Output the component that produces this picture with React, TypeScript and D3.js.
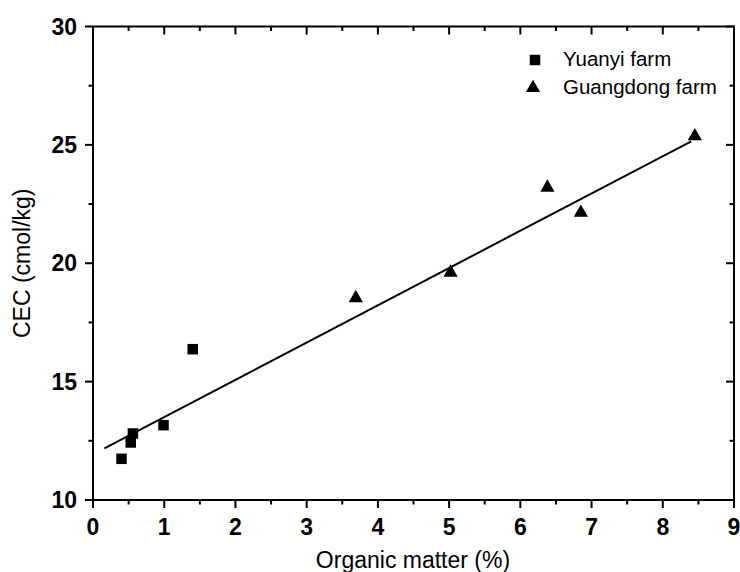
import * as d3 from 'd3'

// Yuanyi farm (squares)
const yuanyiOM = [0.4, 0.53, 0.56, 0.99, 1.4]
const yuanyiCEC = [11.74, 12.43, 12.81, 13.16, 16.37]

// Guangdong farm (triangles)
const guangdongOM = [3.69, 5.02, 6.38, 6.85, 8.45]
const guangdongCEC = [18.57, 19.65, 23.24, 22.18, 25.41]

// linear fit end points
const fitOM = [0.16, 8.4]
const fitCEC = [12.18, 25.15]

const xTicks = [0, 1, 2, 3, 4, 5, 6, 7, 8, 9]
const yTicks = [10, 15, 20, 25, 30]

const W = 740
const H = 572
const FONT = 'Liberation Sans, Arial, sans-serif'

export default function App() {
  const x = d3.scaleLinear().domain([0, 9]).range([93, 734])
  const y = d3.scaleLinear().domain([10, 30]).range([500, 26.5])
  const [x0, x1] = x.range()
  const [yb, yt] = y.range()

  const xMinor = d3.range(0.5, 9, 1)
  const yMinor = d3.range(12.5, 30, 5)

  const sq = 10.5
  const tri = d3.symbol().type(d3.symbolTriangle).size(88)

  const line = d3.line<number>()
    .x(d => x(fitOM[d]))
    .y(d => y(fitCEC[d]))

  const major = 8
  const minor = 4.5

  return (
    <svg width={W} height={H} style={{ position: 'absolute', left: 0, top: 0, background: '#fff' }}
      fontFamily={FONT}>
      {/* frame */}
      <rect x={x0} y={yt} width={x1 - x0} height={yb - yt} fill="none" stroke="#000" strokeWidth={2} />

      {/* bottom ticks (outward) and top ticks (inward) */}
      {xTicks.map(t => (
        <g key={'xt' + t}>
          <line x1={x(t)} x2={x(t)} y1={yb} y2={yb + major} stroke="#000" strokeWidth={2} />
          <line x1={x(t)} x2={x(t)} y1={yt} y2={yt + major} stroke="#000" strokeWidth={2} />
          <text x={x(t)} y={535} textAnchor="middle" fontSize={23} fontWeight="bold">{t}</text>
        </g>
      ))}
      {xMinor.map(t => (
        <g key={'xm' + t}>
          <line x1={x(t)} x2={x(t)} y1={yb} y2={yb + minor} stroke="#000" strokeWidth={2} />
          <line x1={x(t)} x2={x(t)} y1={yt} y2={yt + minor} stroke="#000" strokeWidth={2} />
        </g>
      ))}

      {/* left ticks (outward) and right ticks (inward) */}
      {yTicks.map(t => (
        <g key={'yt' + t}>
          <line x1={x0 - major} x2={x0} y1={y(t)} y2={y(t)} stroke="#000" strokeWidth={2} />
          <line x1={x1 - major} x2={x1} y1={y(t)} y2={y(t)} stroke="#000" strokeWidth={2} />
          <text x={77} y={y(t) + 8} textAnchor="end" fontSize={23} fontWeight="bold">{t}</text>
        </g>
      ))}
      {yMinor.map(t => (
        <g key={'ym' + t}>
          <line x1={x0 - minor} x2={x0} y1={y(t)} y2={y(t)} stroke="#000" strokeWidth={2} />
          <line x1={x1 - minor} x2={x1} y1={y(t)} y2={y(t)} stroke="#000" strokeWidth={2} />
        </g>
      ))}

      {/* axis titles */}
      <text x={413} y={568} textAnchor="middle" fontSize={23}>Organic matter (%)</text>
      <text transform={`translate(29.5,${(yb + yt) / 2}) rotate(-90)`} textAnchor="middle" fontSize={23}>
        CEC (cmol/kg)
      </text>

      {/* fit line */}
      <path d={line([0, 1]) || ''} fill="none" stroke="#000" strokeWidth={2} />

      {/* points */}
      {yuanyiOM.map((v, i) => (
        <rect key={'s' + i} x={x(v) - sq / 2} y={y(yuanyiCEC[i]) - sq / 2} width={sq} height={sq} fill="#000" />
      ))}
      {guangdongOM.map((v, i) => (
        <path key={'t' + i} d={tri() || ''} transform={`translate(${x(v)},${y(guangdongCEC[i]) + 1})`} fill="#000" />
      ))}

      {/* legend */}
      <rect x={535 - sq / 2} y={60 - sq / 2} width={sq} height={sq} fill="#000" />
      <text x={563} y={66} fontSize={20.5}>Yuanyi farm</text>
      <path d={tri() || ''} transform={`translate(533,88)`} fill="#000" />
      <text x={563} y={94} fontSize={20.5}>Guangdong farm</text>
    </svg>
  )
}
